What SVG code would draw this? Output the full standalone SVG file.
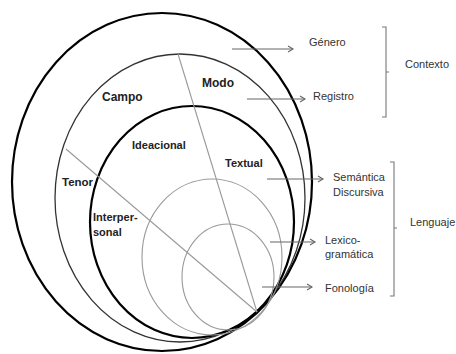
<svg xmlns="http://www.w3.org/2000/svg" width="456" height="354" viewBox="0 0 456 354">
<defs>
<style>
.thick{fill:none;stroke:#000;stroke-width:2.2}
.mid{fill:none;stroke:#333;stroke-width:1.3}
.gray{fill:none;stroke:#999;stroke-width:1.1}
.arr{fill:none;stroke:#666;stroke-width:1.1}
.br{fill:none;stroke:#777;stroke-width:1.1}
.lb{font-family:"Liberation Sans",Arial,sans-serif;font-weight:bold;fill:#222}
.tx{font-family:"Liberation Sans",Arial,sans-serif;font-size:11px;fill:#333}
</style>
<marker id="ah" markerWidth="8" markerHeight="8" refX="6" refY="4" orient="auto" markerUnits="userSpaceOnUse">
<path d="M1,1 L6,4 L1,7" fill="none" stroke="#666" stroke-width="1.1"/>
</marker>
</defs>
<rect width="456" height="354" fill="#fff"/>
<g id="contexto-outer"><ellipse class="thick" cx="162" cy="182" rx="150" ry="169"/></g>
<g id="registro"><ellipse class="mid" cx="180" cy="198" rx="125" ry="144"/></g>
<g id="lenguaje-inner"><ellipse class="thick" cx="192" cy="222" rx="102" ry="116"/></g>
<g id="semantica"><ellipse class="gray" cx="212" cy="257" rx="70" ry="78"/></g>
<g id="lexico"><ellipse class="gray" cx="228" cy="277" rx="46" ry="53"/></g>
<g id="connectors">
<line class="gray" x1="178" y1="54" x2="257" y2="312"/>
<line class="gray" x1="66" y1="149" x2="257" y2="312"/>
<line class="arr" x1="232" y1="49" x2="293" y2="49" marker-end="url(#ah)"/>
<line class="arr" x1="247" y1="99" x2="305" y2="99" marker-end="url(#ah)"/>
<line class="arr" x1="267" y1="179" x2="323" y2="179" marker-end="url(#ah)"/>
<line class="arr" x1="270" y1="242" x2="315" y2="242" marker-end="url(#ah)"/>
<line class="arr" x1="262" y1="287" x2="312" y2="287" marker-end="url(#ah)"/>
<path class="br" d="M382,27 H386 V117 H382 M386,72 H389"/>
<path class="br" d="M390,162 H394 V296 H390 M394,228 H397"/>
</g>
<g id="labels">
<text class="lb" x="102" y="101" font-size="12">Campo</text>
<text class="lb" x="202" y="87" font-size="12">Modo</text>
<text class="lb" x="132" y="149" font-size="11">Ideacional</text>
<text class="lb" x="225" y="167" font-size="11">Textual</text>
<text class="lb" x="62" y="186" font-size="11.5">Tenor</text>
<text class="lb" x="93" y="221" font-size="11">Interper-</text>
<text class="lb" x="93" y="236" font-size="11">sonal</text>
<text class="tx" x="309" y="46">Género</text>
<text class="tx" x="313" y="100">Registro</text>
<text class="tx" x="405" y="68">Contexto</text>
<text class="tx" x="333" y="181">Semántica</text>
<text class="tx" x="333" y="196">Discursiva</text>
<text class="tx" x="325" y="244">Lexico-</text>
<text class="tx" x="325" y="258">gramática</text>
<text class="tx" x="325" y="292">Fonología</text>
<text class="tx" x="410" y="226">Lenguaje</text>
</g>
</svg>
